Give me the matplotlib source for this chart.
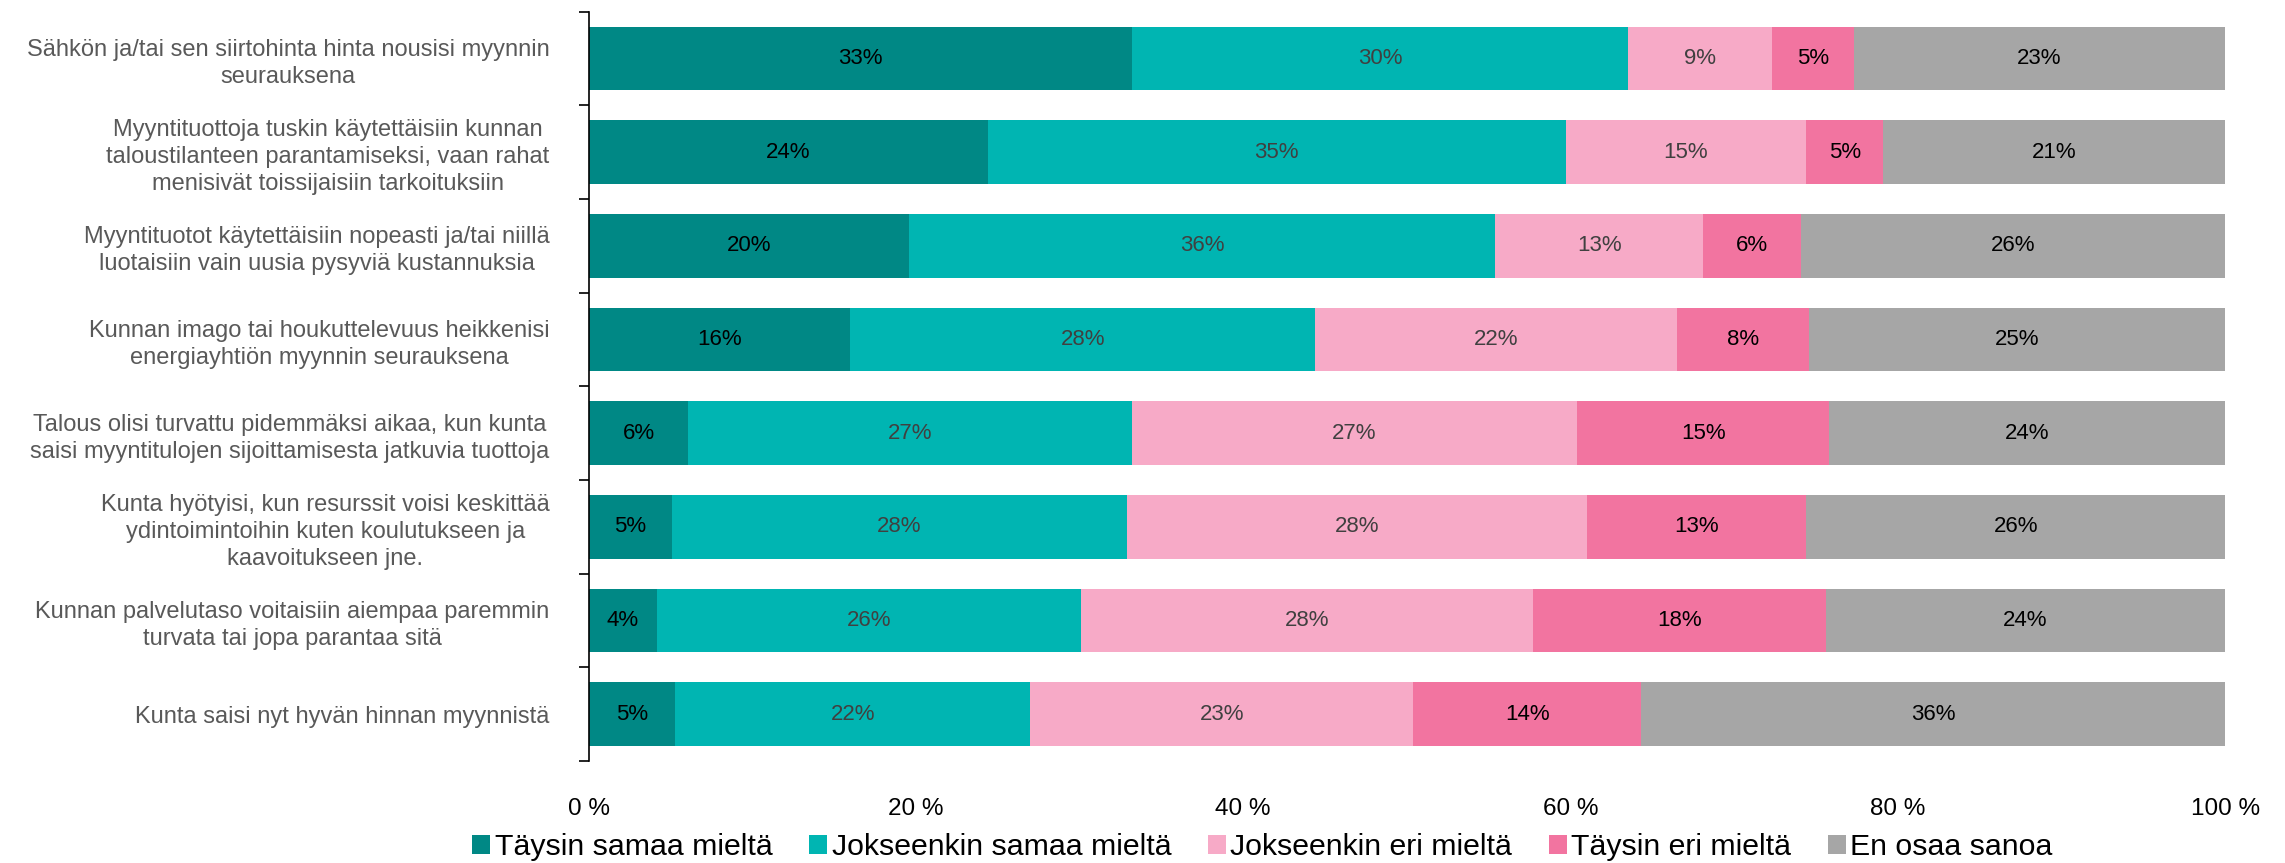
import matplotlib.pyplot as plt
import numpy as np

plt.rcParams['font.family'] = ['Liberation Sans', 'DejaVu Sans']

categories = [
    "Sähkön ja/tai sen siirtohinta hinta nousisi myynnin\nseurauksena",
    "Myyntituottoja tuskin käytettäisiin kunnan\ntaloustilanteen parantamiseksi, vaan rahat\nmenisivät toissijaisiin tarkoituksiin",
    "Myyntituotot käytettäisiin nopeasti ja/tai niillä\nluotaisiin vain uusia pysyviä kustannuksia",
    "Kunnan imago tai houkuttelevuus heikkenisi\nenergiayhtiön myynnin seurauksena",
    "Talous olisi turvattu pidemmäksi aikaa, kun kunta\nsaisi myyntitulojen sijoittamisesta jatkuvia tuottoja",
    "Kunta hyötyisi, kun resurssit voisi keskittää\nydintoimintoihin kuten koulutukseen ja\nkaavoitukseen jne.",
    "Kunnan palvelutaso voitaisiin aiempaa paremmin\nturvata tai jopa parantaa sitä",
    "Kunta saisi nyt hyvän hinnan myynnistä",
]
series = ["Täysin samaa mieltä", "Jokseenkin samaa mieltä", "Jokseenkin eri mieltä",
          "Täysin eri mieltä", "En osaa sanoa"]

taysin_samaa = [33.2, 24.4, 19.6, 16.0, 6.1, 5.1, 4.2, 5.3]
jokseenkin_samaa = [30.3, 35.3, 35.8, 28.4, 27.1, 27.8, 25.9, 21.7]
jokseenkin_eri = [8.8, 14.7, 12.7, 22.1, 27.2, 28.1, 27.6, 23.4]
taysin_eri = [5.0, 4.7, 6.0, 8.1, 15.4, 13.4, 17.9, 13.9]
en_osaa = [22.7, 20.9, 25.9, 25.4, 24.2, 25.6, 24.4, 35.7]

colors = ['#008885', '#00B5B2', '#F7AAC7', '#F274A0', '#A6A6A6']
text_colors = ['black', '#404040', '#404040', 'black', 'black']

fig = plt.figure(figsize=(22.85, 8.63), dpi=100)
ax = fig.add_axes([0.2576, 0.1182, 0.9738 - 0.2576, 0.9864 - 0.1182])

y = np.arange(len(categories))
left = np.zeros(len(categories))
data = [taysin_samaa, jokseenkin_samaa, jokseenkin_eri, taysin_eri, en_osaa]
for vals, name, c, tc in zip(data, series, colors, text_colors):
    vals = np.array(vals) / 100
    ax.barh(y, vals, left=left, height=0.68, color=c, label=name)
    for yi, l, v in zip(y, left, vals):
        ax.text(l + v / 2, yi, f"{round(v * 100):.0f}%", ha='center', va='center',
                fontsize=16, color=tc)
    left += vals

ax.set_xlim(0, 1)
ax.set_ylim(len(categories) - 0.5, -0.5)
ax.set_yticks(y)
ax.set_yticklabels(categories, fontsize=17, color='#595959', linespacing=1.3)
for t in ax.get_yticklabels():
    t.set_multialignment('center')
ax.tick_params(axis='y', which='major', length=0, pad=28)
ax.set_yticks(np.arange(-0.5, len(categories) + 0.5, 1), minor=True)
ax.tick_params(axis='y', which='minor', length=7, width=1.2, direction='out')

ax.set_xticks(np.linspace(0, 1, 6))
ax.set_xticklabels([f"{int(v)} %" for v in np.linspace(0, 100, 6)], fontsize=17.5)
ax.tick_params(axis='x', length=0, pad=27)

for s in ['top', 'right', 'bottom']:
    ax.spines[s].set_visible(False)
ax.spines['left'].set_linewidth(1.2)

fig.legend(loc='center', bbox_to_anchor=(0.5525, 0.018), ncol=5, frameon=False,
           fontsize=21.8, handlelength=0.6, handleheight=0.6, handletextpad=0.15,
           columnspacing=1.2)

plt.savefig("out.png")
